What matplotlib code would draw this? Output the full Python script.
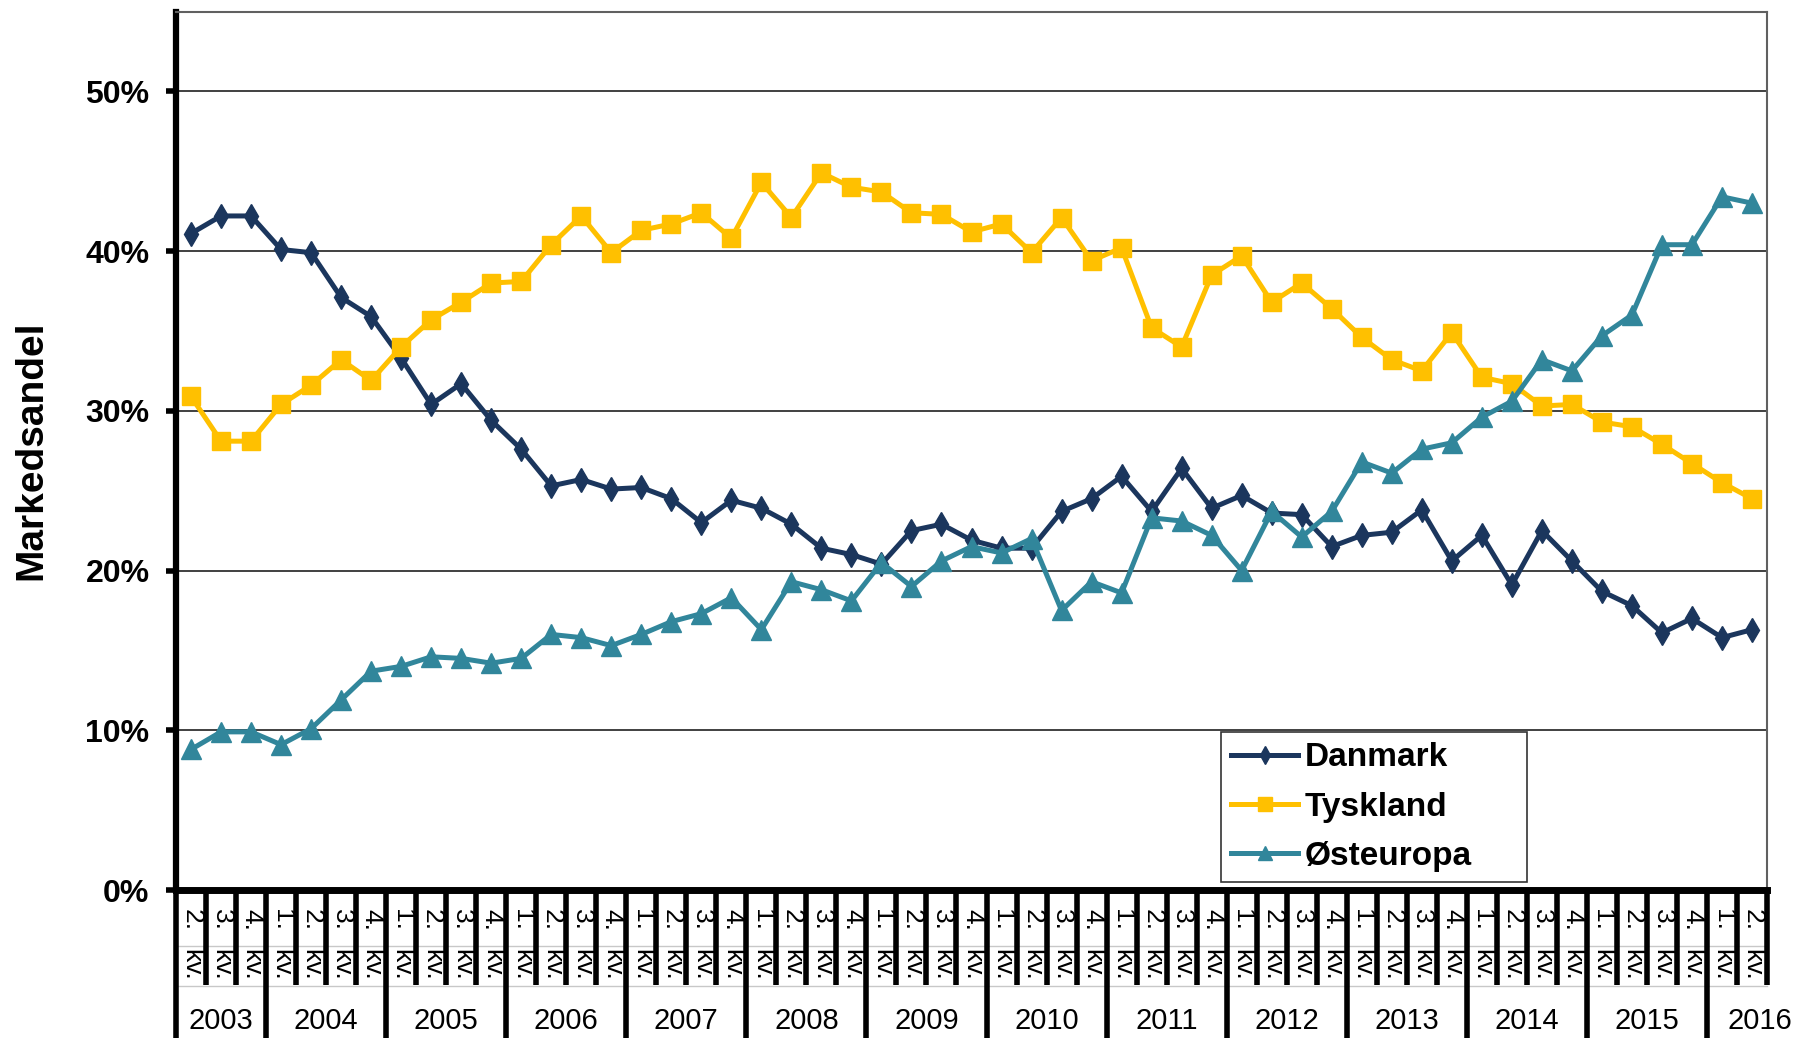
import numpy as np
import matplotlib.pyplot as plt
from matplotlib.transforms import blended_transform_factory
from matplotlib.ticker import PercentFormatter

plt.rcParams['font.family'] = ['Liberation Sans', 'DejaVu Sans']

# quarters 2003 Q2 .. 2016 Q2
years = [2003] * 3 + [y for y in range(2004, 2016) for _ in range(4)] + [2016] * 2
quarters = [2, 3, 4] + [1, 2, 3, 4] * 12 + [1, 2]

danmark = [41.1, 42.2, 42.2, 40.1, 39.9, 37.1, 35.9, 33.3, 30.4, 31.7, 29.4,
           27.6, 25.3, 25.7, 25.1, 25.2, 24.5, 23.0, 24.4, 23.9, 22.9, 21.4,
           21.0, 20.4, 22.5, 22.9, 21.9, 21.4, 21.4, 23.7, 24.5, 25.9, 23.7,
           26.4, 23.9, 24.7, 23.6, 23.5, 21.5, 22.2, 22.4, 23.8, 20.6, 22.2,
           19.1, 22.5, 20.6, 18.7, 17.8, 16.1, 17.0, 15.8, 16.3]
tyskland = [30.9, 28.1, 28.1, 30.4, 31.6, 33.2, 31.9, 34.0, 35.7, 36.8, 38.0,
            38.1, 40.4, 42.2, 39.9, 41.3, 41.7, 42.4, 40.8, 44.3, 42.1, 44.9,
            44.0, 43.7, 42.4, 42.3, 41.2, 41.7, 39.9, 42.1, 39.4, 40.2, 35.2,
            34.0, 38.5, 39.7, 36.8, 38.0, 36.4, 34.6, 33.2, 32.5, 34.9, 32.1,
            31.7, 30.3, 30.4, 29.3, 29.0, 27.9, 26.7, 25.5, 24.5]
osteuropa = [8.8, 9.9, 9.9, 9.1, 10.1, 11.9, 13.7, 14.0, 14.6, 14.5, 14.2,
             14.5, 16.0, 15.8, 15.3, 16.0, 16.8, 17.3, 18.3, 16.3, 19.3, 18.8,
             18.1, 20.5, 19.0, 20.6, 21.5, 21.1, 22.0, 17.5, 19.3, 18.6, 23.3,
             23.1, 22.2, 20.0, 23.7, 22.1, 23.7, 26.8, 26.1, 27.6, 28.0, 29.6,
             30.6, 33.2, 32.5, 34.7, 36.0, 40.4, 40.4, 43.4, 43.0]

W, H = 1806, 1038
fig = plt.figure(figsize=(W / 100, H / 100), dpi=100)
ax = fig.add_axes([176 / W, 1 - 890 / H, (1767 - 176) / W, (890 - 11.5) / H])

x = np.arange(len(years))
ax.plot(x, danmark, color='#1B365D', lw=3.6, marker='d', ms=12, label='Danmark')
ax.plot(x, tyskland, color='#FFC000', lw=3.6, marker='s', ms=12.5, label='Tyskland')
ax.plot(x, osteuropa, color='#31869B', lw=3.6, marker='^', ms=14, label='Østeuropa')

ax.set_xlim(-0.5, len(x) - 0.5)
ax.set_ylim(0, 55)
ax.set_yticks(range(0, 51, 10))
ax.yaxis.set_major_formatter(PercentFormatter(decimals=0))
ax.tick_params(axis='y', labelsize=23, width=4, length=7, pad=12)
for lab in ax.get_yticklabels():
    lab.set_fontweight('bold')
ax.set_xticks([])
ax.grid(axis='y', color='#404040', lw=1.4)
ax.set_axisbelow(True)

ax.spines['left'].set_linewidth(4.5)
ax.spines['bottom'].set_linewidth(5)
for s in ['top', 'right']:
    ax.spines[s].set_color('#606060')
    ax.spines[s].set_linewidth(1.5)

ax.set_ylabel('Markedsandel', fontsize=28, fontweight='bold', labelpad=26)

# category axis: quarter labels + year groups
tr = blended_transform_factory(ax.transData, fig.transFigure)
fy = lambda px: 1 - px / H
ax.plot([-0.5, len(x) - 0.5], [fy(946), fy(946)], transform=tr, color='#c8c8c8', lw=1, clip_on=False)
ax.plot([-0.5, len(x) - 0.5], [fy(986), fy(986)], transform=tr, color='#c8c8c8', lw=1, clip_on=False)
for i in range(len(x) + 1):
    year_edge = i == 0 or (i < len(x) and quarters[i] == 1)
    bottom = H if year_edge else 985
    ax.plot([i - 0.5, i - 0.5], [fy(890), fy(bottom)], transform=tr,
            color='black', lw=4, clip_on=False, solid_capstyle='butt')
for i in x:
    ax.text(i + 0.02, fy(920), f'{quarters[i]}.', transform=tr, rotation=-90,
            ha='center', va='center', fontsize=19)
    ax.text(i + 0.02, fy(965), 'kv.', transform=tr, rotation=-90,
            ha='center', va='center', fontsize=19)
for yr in sorted(set(years)):
    idx = [i for i in x if years[i] == yr]
    xc = np.mean(idx) + (0.75 if yr == years[-1] else 0)  # last label sits off-centre
    ax.text(xc, fy(1021), str(yr), transform=tr, ha='center',
            va='center', fontsize=21)

leg = ax.legend(loc='lower left', bbox_to_anchor=(0.657, 0.009, 0.192, 0.167),
                mode='expand', fontsize=24, frameon=True, fancybox=False,
                edgecolor='black', handlelength=2.0, handletextpad=0.2,
                labelspacing=0.55, borderpad=0.3, borderaxespad=0,
                markerscale=0.75)
leg.get_frame().set_linewidth(1.2)
for t in leg.get_texts():
    t.set_fontweight('bold')

fig.savefig('out.png', dpi=100)
